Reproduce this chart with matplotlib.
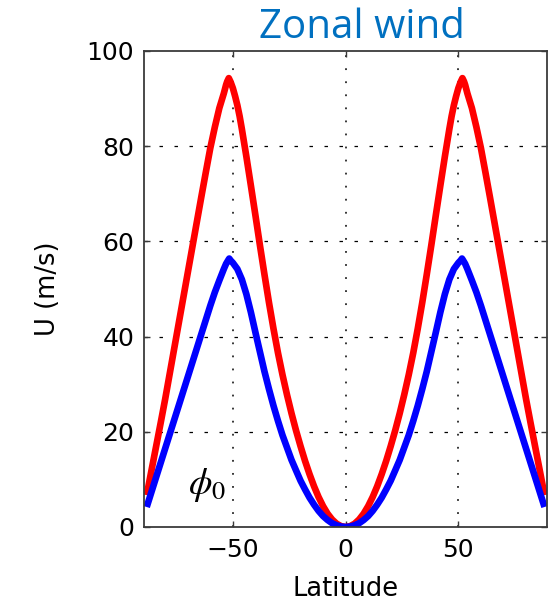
import numpy as np
import matplotlib
matplotlib.use("Agg")
import matplotlib.pyplot as plt

# ---- data (northern hemisphere; mirrored for south) ----
red_lat_nh = [0, 2, 4, 6, 8, 10, 12, 14, 16, 18, 20, 22, 24, 26, 28, 30, 32, 34, 36,
              38, 40, 42, 44, 46, 47, 48, 49, 50, 51, 51.8, 52.5, 53, 54, 56, 58, 60,
              62, 64, 66, 68, 70, 72, 74, 76, 78, 80, 82, 84, 86, 88.2]
red_u_nh = [0, 0.18, 0.7, 1.58, 2.8, 4.38, 6.3, 8.55, 11.1, 13.9, 17.0, 20.3, 23.9,
            27.8, 32.0, 36.6, 41.7, 47.2, 53.1, 59.2, 65.5, 71.7, 77.8, 83.6, 86.3,
            88.6, 90.5, 92.2, 93.5, 94.3, 93.6, 92.9, 91.1, 88.0, 84.0, 79.6, 74.5,
            69.3, 64.0, 58.7, 53.4, 48.1, 42.8, 37.5, 32.2, 26.9, 21.9, 17.0, 12.1, 6.7]

blue_lat_nh = [0, 2, 4, 6, 8, 10, 12, 14, 16, 18, 20, 22, 24, 26, 28, 30, 32, 34, 36,
               38, 40, 42, 44, 46, 48, 50, 51, 51.6, 52, 53, 54, 56, 58, 60, 62, 64,
               66, 68, 70, 72, 74, 76, 78, 80, 82, 84, 86, 88.2]
blue_u_nh = [0, 0.09, 0.36, 0.8, 1.47, 2.3, 3.39, 4.7, 6.17, 7.9, 9.73, 11.9, 14.1,
             16.7, 19.3, 22.3, 25.5, 29.0, 32.7, 36.8, 40.9, 45.1, 48.9, 52.0, 54.2,
             55.5, 56.0, 56.4, 56.1, 55.3, 54.2, 51.8, 49.3, 46.5, 43.5, 40.5, 37.5,
             34.5, 31.5, 28.5, 25.5, 22.5, 19.5, 16.5, 13.5, 10.5, 7.5, 4.2]

xticks = [-50, 0, 50]
xticklabels = ["\u221250", "0", "50"]
yticks = [0, 20, 40, 60, 80, 100]
title_text = "Zonal wind"
xlabel_text = "Latitude"
ylabel_text = "U (m/s)"

def mirror(lat, u):
    lat = np.asarray(lat, float)
    u = np.asarray(u, float)
    return (np.concatenate([-lat[:0:-1], lat]), np.concatenate([u[:0:-1], u]))

red_lat, red_u = mirror(red_lat_nh, red_u_nh)
blue_lat, blue_u = mirror(blue_lat_nh, blue_u_nh)

plt.rcParams['lines.scale_dashes'] = False
fig = plt.figure(figsize=(5.54, 6.02), dpi=100)
ax = fig.add_axes([144/554, 75/602, 403/554, 476/602])

ax.set_xlim(-89.4, 89.3)
ax.set_ylim(0, 100)

# grid
for yv in yticks[1:-1]:
    ax.axhline(yv, color='black', lw=0.9, linestyle=(0, (2.5, 8.3)), zorder=1)
for xv in xticks:
    ax.axvline(xv, color='black', lw=1.1, linestyle=(0, (1.3, 8.1)), zorder=1)

ax.plot(red_lat, red_u, color='#ff0000', lw=4.8, solid_joinstyle='round',
        solid_capstyle='butt', zorder=3)
ax.plot(blue_lat, blue_u, color='#0000ff', lw=4.8, solid_joinstyle='round',
        solid_capstyle='butt', zorder=4)

for s in ax.spines.values():
    s.set_color('#3a3a3a')
    s.set_linewidth(1.3)
    s.set_zorder(5)

ax.set_xticks(xticks)
ax.set_xticklabels(xticklabels)
ax.set_yticks(yticks)
ax.tick_params(direction='in', length=4, width=1.0, color='#3a3a3a',
               top=True, right=True, labelsize=18, labelcolor='black')
ax.tick_params(axis='x', pad=8)
ax.tick_params(axis='y', pad=7)
for lab in ax.get_xticklabels() + ax.get_yticklabels():
    lab.set_family('DejaVu Sans')

ax.set_xlabel(xlabel_text, fontsize=18.5, family='DejaVu Sans')
ax.xaxis.set_label_coords(0.5, -0.102)
ax.set_ylabel(ylabel_text, fontsize=18.5, family='DejaVu Sans')
ax.yaxis.set_label_coords(-0.205, 0.5)

fig.text(362/554, 1 - 38/602, title_text, fontsize=29, family='Open Sans',
         color='#0070C0', ha='center', va='baseline')

ax.text(-70.0, 8.8, r'$\phi_0$', fontsize=27, ha='left', va='center',
        math_fontfamily='stix', zorder=6)

fig.savefig('out.png', dpi=100)
